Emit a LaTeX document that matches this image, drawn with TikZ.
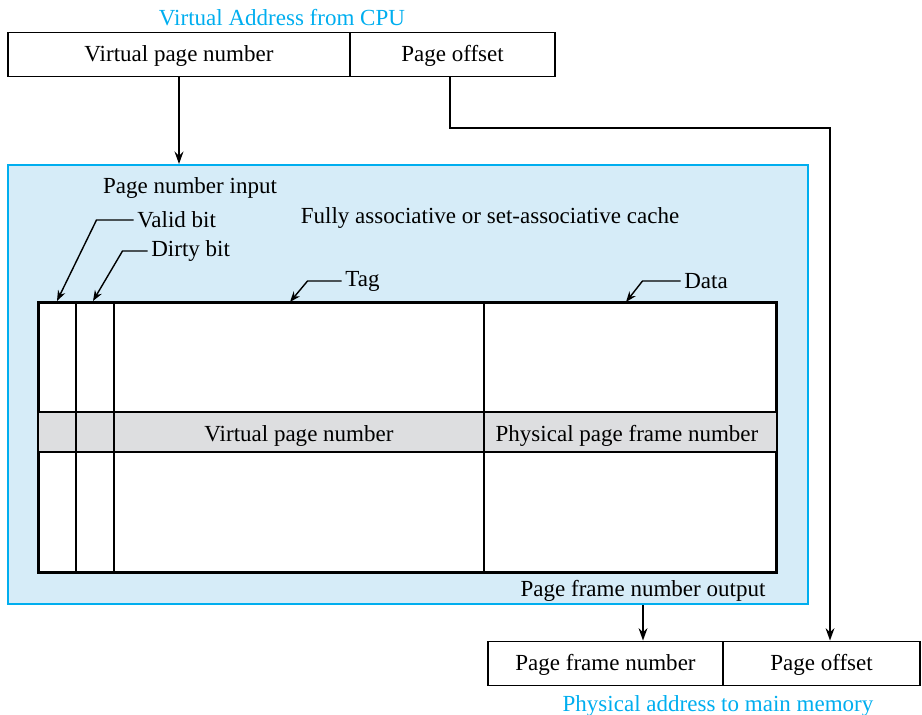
\documentclass[tikz,border=0pt]{standalone}
\usepackage{fontspec}
\setmainfont{Liberation Serif}
\usepackage{tikz}
\usetikzlibrary{arrows.meta,positioning,calc}
\definecolor{cpucyan}{RGB}{0,174,239}
\definecolor{cachefill}{RGB}{214,236,248}
\definecolor{rowgray}{RGB}{221,222,224}
\tikzset{
    field/.style={
        draw,
        line width=1.1pt,
        minimum height=0.88cm,
        text depth=0.8pt,
        inner sep=0pt
    },
    cachebox/.style={
        draw=cpucyan,
        fill=cachefill,
        line width=1.2pt,
        inner sep=0pt
    },
    mainarrow/.style={
        line width=1.1pt,
        ->,
        >={Stealth[length=7pt, width=5pt]}
    },
    % leaders from the labels down to the table
    leader/.style={
        line width=0.8pt,
        ->,
        >={Stealth[length=6pt, width=4.5pt]}
    },
    lbl/.style={anchor=west, inner sep=2pt}
}

\begin{document}
\begin{tikzpicture}[x=0.02cm, y=-0.02cm, font=\fontsize{13.1}{15}\selectfont]
   \useasboundingbox (0,0) rectangle (922,715);

   % virtual address
   \node[cpucyan] (vatitle) at (282,18) {Virtual Address from CPU};
   \node[field, minimum width=6.84cm] (vpn) at (179,54.5) {Virtual page number};
   \node[field, minimum width=4.1cm] (voff) at (452.5,54.5) {Page offset};

   % cache
   \node[cachebox, minimum width=16cm, minimum height=8.78cm] (cache) at (408,384.5) {};
   \draw[mainarrow] (vpn.south) -- (vpn.south |- cache.north);

   \node (pni) at (190,188) {Page number input};
   \node (fac) at (490,218) {Fully associative or set-associative cache};

   \node[field, fill=white, minimum width=14.74cm, minimum height=5.38cm] (tbl) at (407.5,437.5) {};
   \fill[rowgray] (39,412) rectangle (776,452);
   \draw[line width=1.1pt] (39,412) -- (776,412);
   \draw[line width=1.1pt] (39,452) -- (776,452);
   \foreach \x in {76,114,484}
      \draw[line width=1.1pt] (\x,303) -- (\x,572);
   \draw[line width=1.1pt] (tbl.north west) rectangle (tbl.south east);
   \node[anchor=base] (rvpn) at (299,442) {Virtual page number};
   \node[anchor=base] (rpfn) at (627,442) {Physical page frame number};

   \coordinate (vtip) at (57,301);
   \coordinate (dtip) at (93,301);
   \coordinate (ttip) at (290,302);
   \coordinate (atip) at (626,302);
   \node[lbl] (valid) at (133.5,220) {Valid bit};
   \node[lbl] (dirty) at (147.5,251) {Dirty bit};
   \node[lbl] (tag) at (341.5,281) {Tag};
   \node[lbl] (data) at (680.5,281) {Data};
   \draw[leader] (valid.west) -- ++(-37,0) -- (vtip);
   \draw[leader] (dirty.west) -- ++(-25,0) -- (dtip);
   \draw[leader] (tag.west) -- ++(-34,0) -- (ttip);
   \draw[leader] (data.west) -- ++(-38,0) -- (atip);

   \node (pfo) at (643,591) {Page frame number output};

   % physical address
   \node[field, minimum width=4.7cm] (pfn) at (605.5,663.5) {Page frame number};
   \node[field, minimum width=3.94cm] (poff) at (821.5,663.5) {Page offset};
   \node[cpucyan] (patitle) at (718,706) {Physical address to main memory};

   \draw[mainarrow] (cache.south -| pfo) -- (pfo |- pfn.north);
   \coordinate (turn) at (830,128);
   \draw[mainarrow] ([xshift=-0.05cm]voff.south) |- (turn) -- (turn |- poff.north);
\end{tikzpicture}
\end{document}
